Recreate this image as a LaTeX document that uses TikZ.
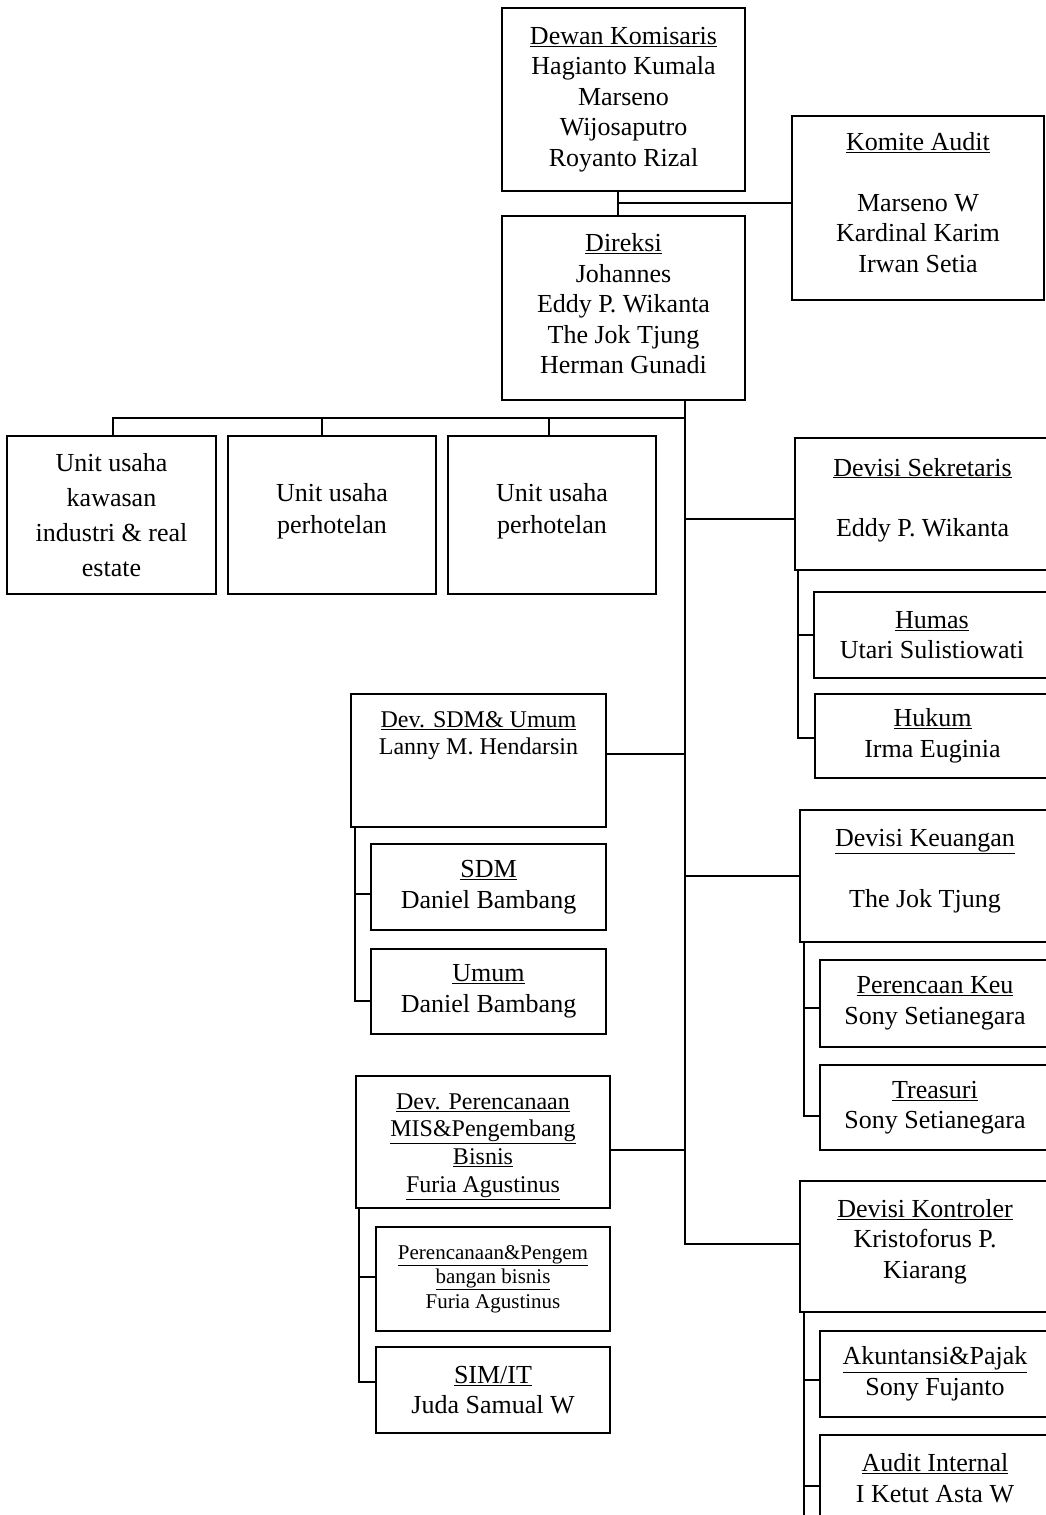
\documentclass[tikz,border=0pt]{standalone}
\usepackage{fontspec}
\setmainfont{Liberation Serif}
\begin{document}
\begin{tikzpicture}[x=1pt,y=-1pt,
  box/.style={draw, line width=1.8pt, align=center, inner sep=0pt, font=\fontsize{26}{30.5}\selectfont},
  mid/.style={font=\fontsize{24}{27.5}\selectfont},
  small/.style={font=\fontsize{21}{24.5}\selectfont},
  link/.style={line width=1.5pt},
]
\useasboundingbox (0,0) rectangle (1046,1515);
\clip (0,0) rectangle (1046,1515);

% top
\node[box, minimum width=243, minimum height=183] (dk) at (623.5,99.5)
  {\underline{Dewan Komisaris}\\Hagianto Kumala\\Marseno\\Wijosaputro\\Royanto Rizal};
\node[box, minimum width=252, minimum height=184] (ka) at (918,208)
  {\underline{Komite Audit}\\[30pt]Marseno W\\Kardinal Karim\\Irwan Setia\\[-19pt]\mbox{}};
\node[box, minimum width=243, minimum height=184] (dir) at (623.5,308)
  {\underline{Direksi}\\Johannes\\Eddy P. Wikanta\\The Jok Tjung\\Herman Gunadi\\[-22pt]\mbox{}};

% units
\node[box, font=\fontsize{26}{35}\selectfont, minimum width=209, minimum height=158] (u1) at (111.5,515)
  {Unit usaha\\kawasan\\industri \& real\\estate};
\node[box, font=\fontsize{26}{32}\selectfont, minimum width=208, minimum height=158] (u2) at (332,515)
  {Unit usaha\\perhotelan\\[-18pt]\mbox{}};
\node[box, font=\fontsize{26}{32}\selectfont, minimum width=208, minimum height=158] (u3) at (552,515)
  {Unit usaha\\perhotelan\\[-18pt]\mbox{}};

% sekretaris
\node[box, minimum width=255, minimum height=132] (ds) at (922.5,504)
  {\underline{Devisi Sekretaris}\\[30pt]Eddy P. Wikanta\\[-17pt]\mbox{}};
\node[box, minimum width=236, minimum height=86] (humas) at (932,635)
  {\underline{Humas}\\Utari Sulistiowati};
\node[box, minimum width=235, minimum height=84] (hukum) at (932.5,736)
  {\underline{Hukum}\\Irma Euginia};

% SDM
\node[box, mid, minimum width=255, minimum height=133] (sdmu) at (478.5,760.5)
  {\underline{Dev. SDM\& Umum}\\Lanny M. Hendarsin\\[27pt]\mbox{}};
\node[box, minimum width=235, minimum height=86] (sdm) at (488.5,887)
  {\underline{SDM}\\Daniel Bambang};
\node[box, minimum width=235, minimum height=85] (umum) at (488.5,991.5)
  {\underline{Umum}\\Daniel Bambang};

% keuangan
\node[box, minimum width=250, minimum height=132] (dkeu) at (925,876)
  {\underline{Devisi Keuangan}\\[30pt]The Jok Tjung\\[-15pt]\mbox{}};
\node[box, minimum width=230, minimum height=87] (pkeu) at (935,1003.5)
  {\underline{Perencaan Keu}\\Sony Setianegara};
\node[box, minimum width=230, minimum height=85] (treas) at (935,1107.5)
  {\underline{Treasuri}\\Sony Setianegara};

% perencanaan
\node[box, font=\fontsize{24}{27.7}\selectfont, minimum width=254, minimum height=132] (dper) at (483,1142)
  {\mbox{}\\[-3.3pt]\underline{Dev. Perencanaan}\\\underline{MIS\&Pengembang}\\\underline{Bisnis}\\\underline{Furia Agustinus}};
\node[box, small, minimum width=234, minimum height=104] (ppb) at (493,1279)
  {\underline{Perencanaan\&Pengem}\\\underline{bangan bisnis}\\Furia Agustinus};
\node[box, minimum width=234, minimum height=86] (sim) at (493,1390)
  {\underline{SIM/IT}\\Juda Samual W};

% kontroler
\node[box, minimum width=250, minimum height=131] (dkon) at (925,1246.5)
  {\underline{Devisi Kontroler}\\Kristoforus P.\\Kiarang\\[-15pt]\mbox{}};
\node[box, minimum width=230, minimum height=86] (akp) at (935,1374)
  {\underline{Akuntansi\&Pajak}\\Sony Fujanto};
\node[box, minimum width=230, minimum height=86] (ai) at (935,1478)
  {\underline{Audit Internal}\\I Ketut Asta W};

% connectors: top
\coordinate (j1) at (618,203);
\draw[link] ([xshift=-5.5pt]dk.south) -- ([xshift=-5.5pt]dir.north);
\draw[link] (j1) -- (j1 -| ka.west);

% trunk
\coordinate (tr0) at (685,400);
\coordinate (tr1) at (685,1244);
\coordinate (bus) at (685,418);
\coordinate (b1) at (113,418);
\coordinate (b2) at (322,418);
\coordinate (b3) at (549,418);
\draw[link] (tr0) -- (tr1) -- (tr1 -| dkon.west);
\draw[link] (bus) -- (b1) -- (b1 |- u1.north);
\draw[link] (b2) -- (b2 |- u2.north);
\draw[link] (b3) -- (b3 |- u3.north);

\coordinate (t1) at (685,519);
\coordinate (t2) at (685,754);
\coordinate (t3) at (685,876);
\coordinate (t4) at (685,1150);
\draw[link] (t1) -- (t1 -| ds.west);
\draw[link] (t2) -- (t2 -| sdmu.east);
\draw[link] (t3) -- (t3 -| dkeu.west);
\draw[link] (t4) -- (t4 -| dper.east);

% sub brackets
\draw[link] ([xshift=4pt]ds.south west) |- ([yshift=-2pt]hukum.west);
\draw[link] (humas.west) -- ++(-15,0);

\draw[link] ([xshift=5pt]sdmu.south west) |- ([yshift=-9.5pt]umum.west);
\draw[link] ([yshift=-7pt]sdm.west) -- ++(-15,0);

\draw[link] ([xshift=5pt]dkeu.south west) |- ([yshift=-8.5pt]treas.west);
\draw[link] ([yshift=-4.5pt]pkeu.west) -- ++(-15,0);

\draw[link] ([xshift=4pt]dper.south west) |- ([yshift=8pt]sim.west);
\draw[link] ([yshift=2pt]ppb.west) -- ++(-16,0);

\coordinate (kt) at ([xshift=5pt]dkon.south west);
\coordinate (kb) at (0,1520);
\coordinate (a1) at ([yshift=-6pt]akp.west);
\coordinate (a2) at ([yshift=-8pt]ai.west);
\draw[link] (kt) -- (kt |- kb);
\draw[link] (a1) -- (a1 -| kt);
\draw[link] (a2) -- (a2 -| kt);
\end{tikzpicture}
\end{document}
